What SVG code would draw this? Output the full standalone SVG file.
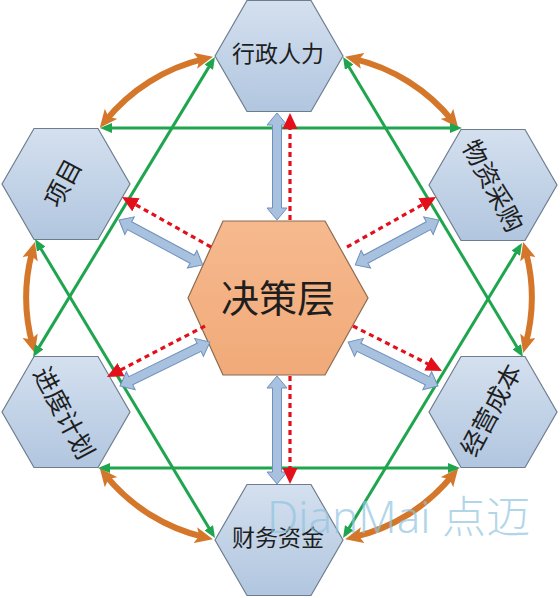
<svg xmlns="http://www.w3.org/2000/svg" width="560" height="598" viewBox="0 0 560 598">
<style>
.hx{fill:url(#gb);stroke:#6e7d8e;stroke-width:1.2}
.hc{fill:url(#go);stroke:#8c6a50;stroke-width:1.2}
.t{font-family:"Liberation Sans","Noto Sans CJK SC",sans-serif;fill:#1e1e1e;text-anchor:middle;dominant-baseline:central}
.g{fill:none;stroke:#1fa54e;stroke-width:3;marker-start:url(#mg);marker-end:url(#mg)}
.o{fill:none;stroke:#d4772a;stroke-width:6;marker-start:url(#mo);marker-end:url(#mo)}
.b{fill:#a7c1de;stroke:#6f90bd;stroke-width:1}
.r{fill:none;stroke:#e3101b;stroke-width:3.2;stroke-dasharray:5 4;marker-end:url(#mr)}
.wm{font-family:"Noto Sans","Liberation Sans","Noto Sans CJK SC",sans-serif;font-weight:300;fill:#8fc4df;fill-opacity:0.7}
</style>
<defs>
<linearGradient id="gb" x1="0" y1="0" x2="0" y2="1"><stop offset="0" stop-color="#d4e0ef"/><stop offset="1" stop-color="#b1c6df"/></linearGradient>
<linearGradient id="go" x1="0" y1="0" x2="0" y2="1"><stop offset="0" stop-color="#f6b98e"/><stop offset="1" stop-color="#f1aa79"/></linearGradient>
<marker id="mg" viewBox="0 0 12 10" refX="8" refY="5" markerWidth="12" markerHeight="10" markerUnits="userSpaceOnUse" orient="auto-start-reverse"><path d="M0,0 L12,5 L0,10 z" fill="#1fa54e"/></marker>
<marker id="mo" viewBox="0 0 18 16" refX="10" refY="8" markerWidth="18" markerHeight="16" markerUnits="userSpaceOnUse" orient="auto-start-reverse"><path d="M0,0 L18,8 L0,16 L4,8 z" fill="#d4772a"/></marker>
<marker id="mr" viewBox="0 0 16 15" refX="12" refY="7.5" markerWidth="16" markerHeight="15" markerUnits="userSpaceOnUse" orient="auto"><path d="M0,0 L16,7.5 L0,15 z" fill="#e3101b"/></marker>
</defs>

<g id="n-xingzheng"><polygon class="hx" points="215,56 247,0.5 311,0.5 343,56 311,111.5 247,111.5"/><text class="t" x="278" y="54" font-size="23">行政人力</text></g>
<g id="n-xiangmu"><polygon class="hx" points="2,184 34,128.5 98,128.5 130,184 98,239.5 34,239.5"/><text class="t" font-size="25" transform="translate(63,183) rotate(-62)">项目</text></g>
<g id="n-wuzi"><polygon class="hx" points="429,185 461,129.5 525,129.5 557,185 525,240.5 461,240.5"/><text class="t" font-size="25" transform="translate(493,186) rotate(62)">物资采购</text></g>
<g id="n-jindu"><polygon class="hx" points="2,412 34,356.5 98,356.5 130,412 98,467.5 34,467.5"/><text class="t" font-size="25" transform="translate(64,413) rotate(62)">进度计划</text></g>
<g id="n-jingying"><polygon class="hx" points="429,412 461,356.5 525,356.5 557,412 525,467.5 461,467.5"/><text class="t" font-size="25" transform="translate(491,410) rotate(-62)">经营成本</text></g>
<g id="n-caiwu"><polygon class="hx" points="215,540 247,484.5 311,484.5 343,540 311,595.5 247,595.5"/><text class="t" x="278" y="538" font-size="23">财务资金</text></g>
<g id="n-center"><polygon class="hc" points="188,298 223,221 325,221 368,298 325,375 223,375"/><text class="t" x="278" y="299" font-size="38">决策层</text></g>

<g id="connectors">
<path class="o" d="M104.8,121.6 A180,180 0 0 1 205.1,58.6"/>
<path class="o" d="M352.9,58.6 A180,180 0 0 1 453.2,121.6"/>
<path class="o" d="M525.3,249.7 A180,180 0 0 1 525.3,345.3"/>
<path class="o" d="M453.2,474.4 A180,180 0 0 1 352.9,537.4"/>
<path class="o" d="M205.1,537.4 A180,180 0 0 1 104.8,474.4"/>
<path class="o" d="M32.7,345.3 A180,180 0 0 1 32.7,249.7"/>

<path class="g" d="M104,128 L458,128"/>
<path class="g" d="M102,468 L456,468"/>
<path class="g" d="M212.9,60.4 L35.1,353.6"/>
<path class="g" d="M345.1,60.4 L520.9,353.6"/>
<path class="g" d="M212.9,534.6 L37.1,242.4"/>
<path class="g" d="M345.1,534.6 L519.9,246.4"/>

<polygon class="b" transform="translate(277,113) rotate(90)" points="0,0 12,-10 12,-4.5 95,-4.5 95,-10 107,0 95,10 95,4.5 12,4.5 12,10"/>
<polygon class="b" transform="translate(277,376) rotate(90)" points="0,0 12,-10 12,-4.5 96,-4.5 96,-10 108,0 96,10 96,4.5 12,4.5 12,10"/>
<polygon class="b" transform="translate(119,220) rotate(28.2)" points="0,0 12,-10 12,-4.5 83,-4.5 83,-10 95,0 83,10 83,4.5 12,4.5 12,10"/>
<polygon class="b" transform="translate(439,220) rotate(151.8)" points="0,0 12,-10 12,-4.5 83,-4.5 83,-10 95,0 83,10 83,4.5 12,4.5 12,10"/>
<polygon class="b" transform="translate(120,386) rotate(-26.05)" points="0,0 12,-10 12,-4.5 88,-4.5 88,-10 100,0 88,10 88,4.5 12,4.5 12,10"/>
<polygon class="b" transform="translate(438,386) rotate(-153.95)" points="0,0 12,-10 12,-4.5 88,-4.5 88,-10 100,0 88,10 88,4.5 12,4.5 12,10"/>

<path class="r" d="M290,220 L290,117"/>
<path class="r" d="M290,376 L290,480"/>
<path class="r" d="M211,247 L125.5,199"/>
<path class="r" d="M347,247 L432.5,199"/>
<path class="r" d="M205,326 L110.5,375.2"/>
<path class="r" d="M353,326 L438.4,369.2"/>
</g>

<text class="wm" x="267" y="533" font-size="44">DianMai 点迈</text>
</svg>
